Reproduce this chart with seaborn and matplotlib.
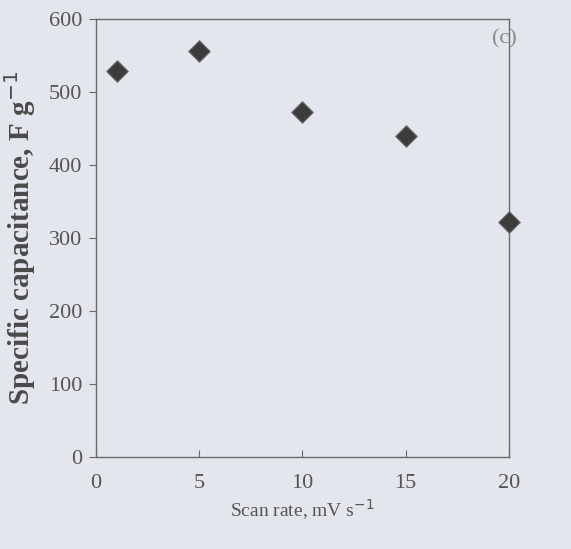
import numpy as np
import pandas as pd
import seaborn as sns
import matplotlib.pyplot as plt

# data
scan_rate = [1, 5, 10, 15, 20]
capacitance = [528, 556, 473, 439, 322]

x_ticks = [0, 5, 10, 15, 20]
y_ticks = [0, 100, 200, 300, 400, 500, 600]

df = pd.DataFrame({'scan_rate': scan_rate, 'capacitance': capacitance})

sns.set_style('ticks')
plt.rcParams['font.family'] = ['Liberation Serif', 'DejaVu Serif']

bg = '#e3e6ed'
ink = '#555555'

fig = plt.figure(figsize=(5.71, 5.49), dpi=100, facecolor=bg)
ax = fig.add_axes([0.168, 0.167, 0.723, 0.799])
ax.set_facecolor(bg)

sns.scatterplot(data=df, x='scan_rate', y='capacitance', marker='D', s=120,
                color='#3c3c3c', edgecolor='#6a6a6a', linewidth=0.8,
                ax=ax, legend=False, zorder=3, clip_on=False)

ax.set_xlim(0, 20)
ax.set_ylim(0, 600)
ax.set_xticks(x_ticks)
ax.set_yticks(y_ticks)

for side in ['left', 'right', 'top', 'bottom']:
    ax.spines[side].set_color('#6a6a6a')
    ax.spines[side].set_linewidth(1.0)
    ax.spines[side].set_linestyle((0, (4, 1)))

ax.tick_params(axis='y', direction='out', length=5, color='#6a6a6a',
               labelsize=16, labelcolor=ink, pad=5)
ax.tick_params(axis='x', direction='in', length=5, color='#6a6a6a',
               labelsize=16, labelcolor=ink, pad=12)

ax.set_xlabel('Scan rate, mV s$^{-1}$', fontsize=14, color=ink, labelpad=3)
ax.set_ylabel('Specific capacitance, F g$^{-1}$', fontsize=21, color='#4a4a4a',
              fontweight='bold', labelpad=8)

ax.text(0.99, 0.975, '(c)', transform=ax.transAxes, ha='center', va='top',
        fontsize=16, color='#8a8a8a')

fig.savefig('out.png', dpi=100, facecolor=bg)
